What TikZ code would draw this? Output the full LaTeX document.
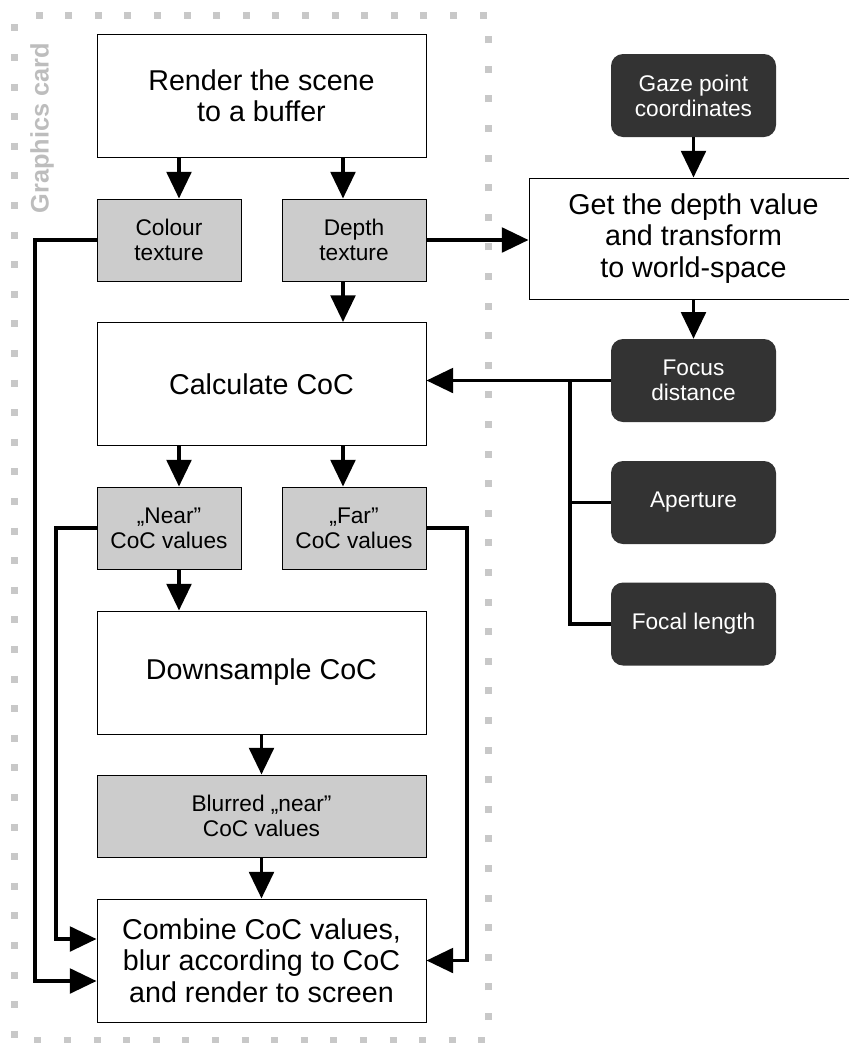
\documentclass[tikz,border=0pt]{standalone}
\usepackage{fontspec}
\setmainfont{Liberation Sans}
\usetikzlibrary{arrows.meta,calc}
\definecolor{boxgray}{HTML}{CCCCCC}
\definecolor{darkbox}{HTML}{333333}
\definecolor{dotgray}{HTML}{C8C8C8}
\definecolor{labelgray}{HTML}{BDBDBD}

\begin{document}
\begin{tikzpicture}[x=0.75pt,y=-0.75pt,
  stage/.style={draw=black,line width=0.75pt,fill=white,minimum width=246.75pt,minimum height=92.25pt,inner sep=0pt,align=center,font=\fontsize{21.5}{23.5}\selectfont},
  texbox/.style={draw=black,line width=0.75pt,fill=boxgray,minimum width=108pt,minimum height=61.5pt,inner sep=0pt,align=center,font=\fontsize{17}{19}\selectfont},
  param/.style={fill=darkbox,text=white,rounded corners=9pt,minimum width=123.75pt,minimum height=62.25pt,inner sep=0pt,align=center,font=\fontsize{17}{18.8}\selectfont},
  flow/.style={line width=2.6pt,-{Triangle[length=20pt,width=18.5pt]}},
  wire/.style={line width=2.6pt}]
\useasboundingbox (0,0) rectangle (849,1043);
\clip (0,0) rectangle (849,1043);
\draw[dotgray,line width=5.25pt,dash pattern=on 5.25pt off 16.95pt,dash phase=-7pt] (14,15) rectangle (488,1040);
\node[rotate=90,text=labelgray,font=\bfseries\fontsize{19}{19}\selectfont] (gpu) at (42,128) {Graphics card};

\node[stage] (render) at (261.5,95.5) {Render the scene\\to a buffer};
\node[texbox] (colour) at (169,240) {Colour\\texture};
\node[texbox] (depth) at (354,240) {Depth\\texture};
\node[stage] (calc) at (261.5,384) {Calculate CoC};
\node[texbox] (near) at (169,528) {„Near”\\CoC values};
\node[texbox] (far) at (354,528) {„Far”\\CoC values};
\node[stage] (down) at (261.5,672.5) {Downsample CoC};
\node[texbox,minimum width=246.75pt] (blur) at (261.5,816) {Blurred „near”\\CoC values};
\node[stage] (comb) at (261.5,960.5) {Combine CoC values,\\blur according to CoC\\and render to screen};
\node[param] (gaze) at (693.5,95.5) {Gaze point\\coordinates};
\node[stage,minimum height=90.75pt] (get) at (693.5,238.5) {Get the depth value\\and transform\\to world-space};
\node[param] (focus) at (693.5,380.5) {Focus\\distance};
\node[param] (aperture) at (693.5,502.5) {Aperture};
\node[param] (focal) at (693.5,624) {Focal length};

\coordinate (lq) at (179,0);
\coordinate (rq) at (343,0);
\coordinate (cl) at (35,0);
\coordinate (nl) at (56,0);
\coordinate (fr) at (467,0);
\coordinate (bus) at (570,0);

\draw[flow] (render.south -| lq) -- (colour.north -| lq);
\draw[flow] (render.south -| rq) -- (depth.north -| rq);
\draw[flow] (depth.south -| rq) -- (calc.north -| rq);
\draw[flow] (calc.south -| lq) -- (near.north -| lq);
\draw[flow] (calc.south -| rq) -- (far.north -| rq);
\draw[flow] (near.south -| lq) -- (down.north -| lq);
\draw[flow] (down) -- (blur);
\draw[flow] (blur) -- (comb);
\draw[flow] (depth.east) -- (depth.east -| get.west);
\draw[flow] (gaze) -- (get);
\draw[flow] (get) -- (focus);
\draw[flow] (focus.west) -- (focus.west -| calc.east);
\draw[wire] (focus.west -| bus) -- (focal.west -| bus) -- (focal.west);
\draw[wire] (aperture.west) -- (aperture.west -| bus);
\draw[flow] (colour.west) -- (colour.west -| cl) |- ($(comb.west)+(0,20.5)$);
\draw[flow] (near.west) -- (near.west -| nl) |- ($(comb.west)+(0,-21.5)$);
\draw[flow] (far.east) -- (far.east -| fr) |- (comb.east);
\end{tikzpicture}
\end{document}
